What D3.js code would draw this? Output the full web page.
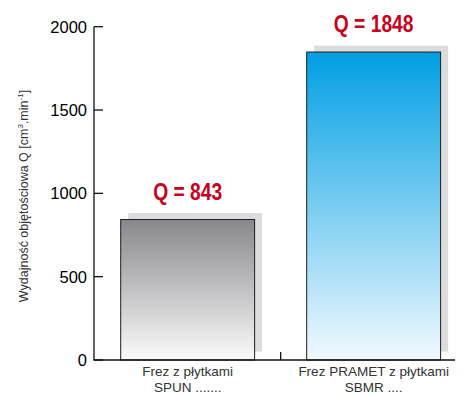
<!DOCTYPE html>
<html>
<head>
<meta charset="utf-8">
<script src="https://cdn.jsdelivr.net/npm/d3@7"></script>
<style>
  body { margin: 0; background: #fff; }
  svg { display: block; }
</style>
</head>
<body>
<div id="chart"></div>
<script>
// data
const categories = ['SPUN', 'SBMR'];
const catLines = [['Frez z płytkami', 'SPUN .......'], ['Frez PRAMET z płytkami', 'SBMR ....']];
const values = [843, 1848];
const yTicks = [0, 500, 1000, 1500, 2000];
const gradColors = [['#88888c', '#fbfbfb'], ['#009fe3', '#f2f9fe']];

const width = 465, height = 396;
const svg = d3.select('#chart').append('svg')
    .attr('width', width).attr('height', height);

const x = d3.scaleBand().domain(categories)
    .range([92.8, 468.5]).paddingInner(0.28).paddingOuter(0.15);
const y = d3.scaleLinear().domain([0, 2000]).range([360, 26.7]);

const defs = svg.append('defs');
gradColors.forEach((c, i) => {
  const g = defs.append('linearGradient').attr('id', 'g' + i)
      .attr('x1', 0).attr('y1', 0).attr('x2', 0).attr('y2', 1);
  g.append('stop').attr('offset', '0%').attr('stop-color', c[0]);
  g.append('stop').attr('offset', '100%').attr('stop-color', c[1]);
});

// shadows
svg.append('g').selectAll('rect').data(values).join('rect')
    .attr('x', (d, i) => x(categories[i]) + 7.5)
    .attr('y', d => y(d) - 6.5)
    .attr('width', x.bandwidth())
    .attr('height', d => y(0) - y(d) - 2)
    .attr('fill', '#dcdcdc');

// bars
svg.append('g').selectAll('rect').data(values).join('rect')
    .attr('x', (d, i) => x(categories[i]))
    .attr('y', d => y(d))
    .attr('width', x.bandwidth())
    .attr('height', d => y(0) - y(d))
    .attr('fill', (d, i) => `url(#g${i})`)
    .attr('stroke', '#1e1e1e').attr('stroke-width', 1);

// value labels (condensed look)
svg.append('g').selectAll('text').data(values).join('text')
    .attr('transform', (d, i) => `translate(${x(categories[i]) + x.bandwidth() / 2},${y(d) - 20}) scale(0.82,1)`)
    .attr('text-anchor', 'middle')
    .attr('font-family', '"Liberation Sans", Arial, sans-serif')
    .attr('font-weight', 'bold').attr('font-size', 23.5)
    .attr('fill', '#c8001e')
    .text(d => 'Q = ' + d);

// axes
const axisG = svg.append('g').attr('stroke', '#111').attr('stroke-width', 1.3);
axisG.append('line').attr('x1', 94).attr('x2', 94).attr('y1', y(2000)).attr('y2', y(0));
axisG.append('line').attr('x1', 93.4).attr('x2', 455).attr('y1', y(0)).attr('y2', y(0));
axisG.selectAll('.yt').data(yTicks).join('line').attr('class', 'yt')
    .attr('x1', 94).attr('x2', 103).attr('y1', d => y(d)).attr('y2', d => y(d));
const midX = x(categories[1]) - x.step() * x.paddingInner() / 2;
axisG.append('line').attr('x1', midX).attr('x2', midX).attr('y1', y(0)).attr('y2', y(0) - 8);

svg.append('g').selectAll('text').data(yTicks).join('text')
    .attr('x', 87).attr('y', d => y(d) + 6)
    .attr('text-anchor', 'end')
    .attr('font-family', '"Liberation Sans", Arial, sans-serif')
    .attr('font-size', 16.5).attr('fill', '#000')
    .text(d => d);

// category labels
const cat = svg.append('g').selectAll('text').data(catLines).join('text')
    .attr('text-anchor', 'middle')
    .attr('font-family', '"Liberation Sans", Arial, sans-serif')
    .attr('font-size', 13.5).attr('fill', '#333');
cat.each(function(lines, i) {
  const cx = x(categories[i]) + x.bandwidth() / 2;
  d3.select(this).selectAll('tspan').data(lines).join('tspan')
      .attr('x', cx).attr('y', (d, j) => 376 + j * 16)
      .text(d => d);
});

// y axis title
const yt = svg.append('text')
    .attr('transform', 'translate(28,196) rotate(-90)')
    .attr('text-anchor', 'middle')
    .attr('font-family', '"Liberation Sans", Arial, sans-serif')
    .attr('font-size', 12.5).attr('fill', '#333');
yt.append('tspan').text('Wydajność objętościowa Q [cm');
yt.append('tspan').attr('font-size', 8).attr('dy', -5).text('3');
yt.append('tspan').attr('dy', 5).text('.min');
yt.append('tspan').attr('font-size', 8).attr('dy', -5).text('-1');
yt.append('tspan').attr('dy', 5).text(']');
</script>
</body>
</html>
